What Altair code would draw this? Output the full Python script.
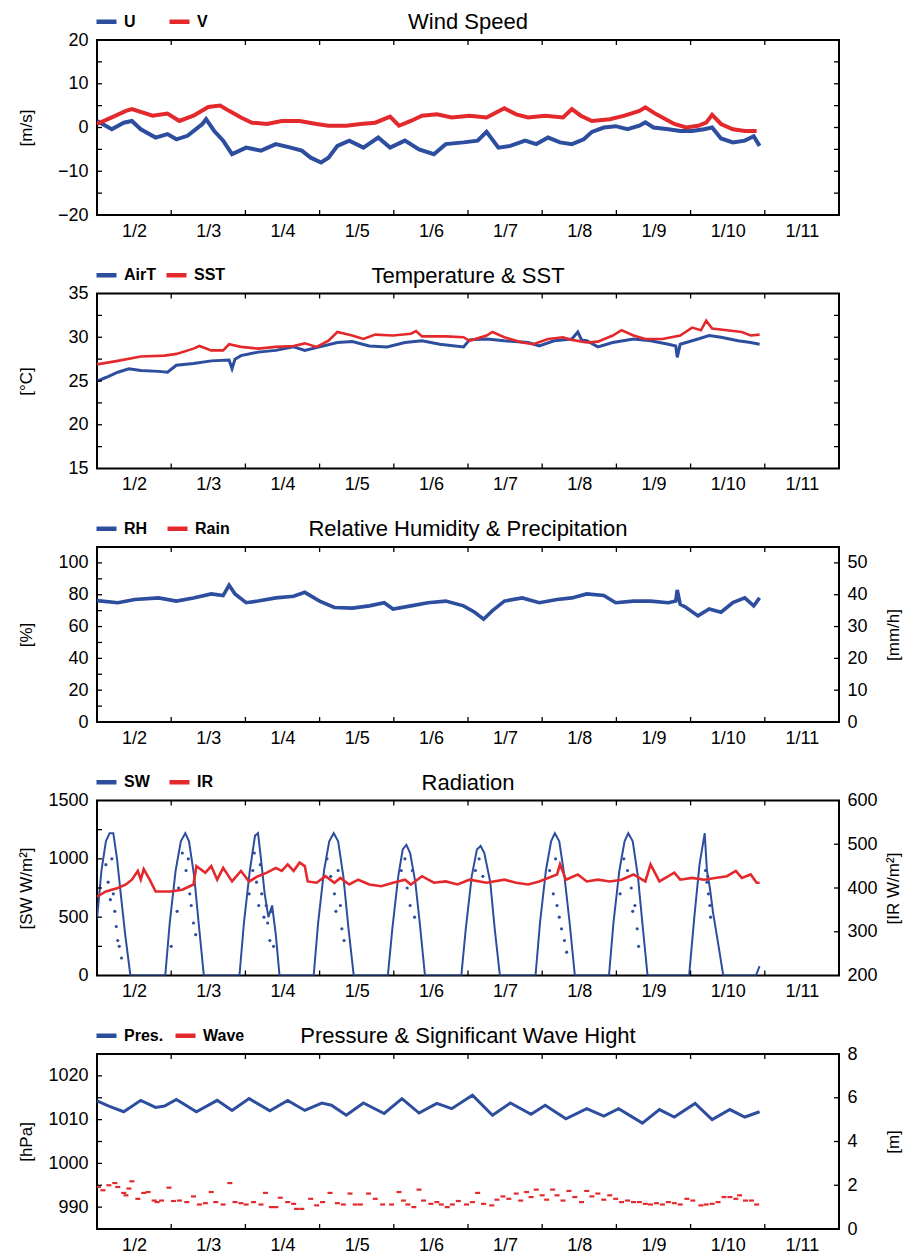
import altair as alt
import pandas as pd

BLUE = "#2D4E9E"
RED = "#E4292C"
FONT = "Liberation Sans, Arial, sans-serif"
W = 742
H = 175

# x axis: day 0 = 1/2 00:00, labels centred on each day
LABEL_POS = [0.5, 1.5, 2.5, 3.5, 4.5, 5.5, 6.5, 7.5, 8.5, 9.5]
DAY_TICKS = [1, 2, 3, 4, 5, 6, 7, 8, 9]

# ---------------- Wind ----------------
u_t = [0, 0.2, 0.36, 0.47, 0.59, 0.79, 0.95, 1.07, 1.22, 1.42, 1.47, 1.58, 1.70, 1.82, 2.01, 2.21, 2.41, 2.61, 2.76, 2.88,
       3.02, 3.12, 3.24, 3.40, 3.59, 3.79, 3.95, 4.15, 4.34, 4.54, 4.70, 4.94, 5.13, 5.25, 5.41, 5.57, 5.77, 5.92, 6.08,
       6.24, 6.40, 6.56, 6.67, 6.83, 6.99, 7.15, 7.31, 7.39, 7.50, 7.70, 7.86, 8.02, 8.18, 8.29, 8.41, 8.57, 8.73, 8.85, 8.93]
u_v = [1.5, -0.4, 1.1, 1.5, -0.4, -2.3, -1.5, -2.7, -1.9, 0.8, 1.9, -0.8, -3.0, -6.1, -4.6, -5.3, -3.8, -4.6, -5.3, -6.9,
       -8.0, -6.9, -4.2, -3.0, -4.6, -2.3, -4.6, -3.0, -5.0, -6.1, -3.8, -3.4, -3.0, -1.0, -4.6, -4.2, -3.0, -3.8, -2.3,
       -3.4, -3.8, -2.7, -1.0, 0.0, 0.3, -0.4, 0.4, 1.2, 0.0, -0.4, -0.8, -0.8, -0.4, 0.0, -2.5, -3.4, -3.0, -2.0, -4.2]
v_t = [0, 0.2, 0.39, 0.47, 0.75, 0.95, 1.11, 1.30, 1.50, 1.66, 1.78, 1.94, 2.09, 2.29, 2.49, 2.73, 2.96, 3.12, 3.36, 3.55,
       3.75, 3.95, 4.07, 4.23, 4.38, 4.58, 4.78, 5.02, 5.25, 5.49, 5.65, 5.81, 6.04, 6.28, 6.40, 6.52, 6.67, 6.91, 7.11,
       7.31, 7.39, 7.54, 7.78, 7.94, 8.10, 8.21, 8.29, 8.41, 8.57, 8.73, 8.89]
v_v = [0.8, 2.3, 3.8, 4.2, 2.7, 3.2, 1.5, 2.7, 4.7, 5.0, 3.8, 2.3, 1.1, 0.8, 1.5, 1.5, 0.8, 0.4, 0.4, 0.8,
       1.1, 2.5, 0.4, 1.5, 2.7, 3.0, 2.3, 2.7, 2.3, 4.4, 3.0, 2.3, 2.7, 2.3, 4.2, 2.7, 1.5, 1.9, 2.7,
       3.8, 4.6, 3.0, 0.8, 0.0, 0.4, 1.1, 2.9, 0.8, -0.4, -0.8, -0.8]

# ---------------- Temperature ----------------
airt_t = [0, 0.12, 0.28, 0.43, 0.59, 0.83, 0.95, 1.07, 1.30, 1.54, 1.78, 1.82, 1.86, 1.94, 2.17, 2.41, 2.65, 2.80, 3.00,
          3.24, 3.44, 3.67, 3.91, 4.15, 4.38, 4.62, 4.94, 5.02, 5.25, 5.49, 5.81, 5.96, 6.16, 6.40, 6.48, 6.53, 6.60,
          6.75, 6.95, 7.23, 7.46, 7.70, 7.80, 7.82, 7.86, 8.10, 8.25, 8.41, 8.64, 8.81, 8.93]
airt_v = [25.0, 25.4, 26.0, 26.4, 26.2, 26.1, 26.0, 26.8, 27.0, 27.3, 27.4, 26.4, 27.5, 27.9, 28.3, 28.5, 28.9, 28.5, 28.9,
          29.4, 29.5, 29.0, 28.9, 29.4, 29.6, 29.2, 28.9, 29.7, 29.8, 29.6, 29.4, 29.0, 29.6, 29.8, 30.6, 29.7, 29.6,
          28.9, 29.4, 29.8, 29.6, 29.2, 29.0, 27.7, 29.2, 29.8, 30.2, 30.0, 29.6, 29.4, 29.2]
sst_t = [0, 0.28, 0.59, 0.91, 1.07, 1.30, 1.38, 1.54, 1.70, 1.78, 1.94, 2.17, 2.41, 2.65, 2.80, 2.96, 3.12, 3.24, 3.44,
         3.59, 3.75, 3.99, 4.23, 4.30, 4.38, 4.70, 4.94, 5.02, 5.25, 5.33, 5.49, 5.73, 5.88, 6.08, 6.28, 6.40, 6.60,
         6.75, 6.95, 7.07, 7.23, 7.39, 7.62, 7.86, 8.02, 8.14, 8.21, 8.29, 8.49, 8.69, 8.81, 8.93]
sst_v = [26.9, 27.3, 27.8, 27.9, 28.1, 28.7, 29.0, 28.5, 28.5, 29.2, 28.9, 28.7, 28.9, 29.0, 29.3, 28.9, 29.6, 30.6, 30.2,
         29.8, 30.3, 30.2, 30.4, 30.7, 30.1, 30.1, 30.0, 29.6, 30.2, 30.6, 30.0, 29.4, 29.2, 29.8, 30.0, 29.7, 29.4,
         29.5, 30.2, 30.8, 30.2, 29.8, 29.8, 30.2, 31.1, 30.8, 31.9, 31.0, 30.8, 30.6, 30.2, 30.3]

# ---------------- Relative humidity ----------------
rh_t = [0, 0.28, 0.51, 0.83, 1.07, 1.30, 1.54, 1.70, 1.78, 1.86, 2.01, 2.17, 2.41, 2.65, 2.80, 3.00, 3.20, 3.44, 3.67,
        3.87, 3.99, 4.23, 4.46, 4.70, 4.94, 5.09, 5.21, 5.33, 5.49, 5.73, 5.96, 6.20, 6.40, 6.60, 6.83, 6.99, 7.23,
        7.46, 7.70, 7.80, 7.82, 7.86, 7.94, 8.10, 8.25, 8.41, 8.57, 8.73, 8.85, 8.93]
rh_v = [76.3, 75, 77, 78, 76, 78, 80.5, 79.5, 86, 80.5, 75, 76, 78, 79, 81.5, 76, 72, 71.6, 73,
        75, 71, 73, 75, 76, 73, 69, 64.6, 70, 76, 78, 75, 77, 78, 80.5, 79.5, 75, 76,
        76, 75, 76, 83, 74, 72, 66.7, 71, 69, 75, 78, 73, 78]

# ---------------- Radiation ----------------
sw_t = [0, 0.06, 0.12, 0.17, 0.22, 0.27, 0.32, 0.38, 0.45,
        0.92, 0.98, 1.06, 1.13, 1.19, 1.24, 1.31, 1.37, 1.44,
        1.92, 1.98, 2.06, 2.13, 2.17, 2.21, 2.26, 2.31, 2.36, 2.41, 2.46,
        2.92, 2.98, 3.06, 3.13, 3.19, 3.25, 3.32, 3.39, 3.46,
        3.92, 3.98, 4.06, 4.12, 4.17, 4.22, 4.29, 4.35, 4.42,
        4.91, 4.97, 5.05, 5.12, 5.17, 5.22, 5.30, 5.36, 5.43,
        5.91, 5.97, 6.05, 6.12, 6.17, 6.23, 6.30, 6.37, 6.44,
        6.90, 6.96, 7.04, 7.11, 7.16, 7.22, 7.29, 7.35, 7.42,
        7.98, 8.05, 8.12, 8.19, 8.22, 8.26, 8.30, 8.37, 8.44,
        8.88, 8.93]
sw_v = [480, 900, 1150, 1220, 1220, 1000, 700, 350, 0,
        0, 450, 900, 1150, 1220, 1150, 850, 450, 0,
        0, 450, 900, 1200, 1220, 1000, 700, 500, 600, 350, 0,
        0, 450, 900, 1150, 1220, 1150, 850, 400, 0,
        0, 400, 850, 1080, 1120, 1050, 800, 450, 0,
        0, 400, 850, 1080, 1110, 1050, 800, 400, 0,
        0, 450, 900, 1150, 1220, 1150, 850, 450, 0,
        0, 450, 900, 1150, 1220, 1150, 850, 450, 0,
        0, 500, 950, 1220, 900, 750, 550, 280, 0,
        0, 80]
swd_t = [0.12, 0.15, 0.18, 0.20, 0.22, 0.24, 0.26, 0.28, 0.30, 0.33,
         1.00, 1.08, 1.10, 1.15, 1.20, 1.23, 1.25, 1.27, 1.30, 1.33,
         2.05, 2.10, 2.12, 2.15, 2.18, 2.20, 2.22, 2.25, 2.28, 2.30, 2.33, 2.35, 2.38,
         3.10, 3.15, 3.20, 3.22, 3.25, 3.28, 3.30, 3.33,
         4.10, 4.15, 4.18, 4.22, 4.25, 4.28,
         5.10, 5.15, 5.20,
         6.10, 6.15, 6.18, 6.20, 6.23, 6.26, 6.30, 6.33,
         7.05, 7.10, 7.15, 7.20, 7.22, 7.25, 7.28, 7.30,
         8.20, 8.22, 8.23, 8.24, 8.26, 8.27]
swd_v = [950, 800, 650, 1000, 700, 550, 420, 300, 250, 150,
         250, 550, 750, 1050, 900, 1000, 700, 600, 450, 350,
         700, 900, 1050, 800, 600, 950, 700, 500, 600, 450, 300, 550, 250,
         1000, 850, 700, 550, 900, 600, 400, 300,
         900, 1000, 750, 600, 900, 500,
         900, 1000, 850,
         900, 700, 1000, 600, 500, 400, 300, 200,
         700, 1000, 900, 750, 550, 600, 400, 250,
         900, 800, 850, 700, 600, 500]
ir_t = [0, 0.12, 0.28, 0.39, 0.47, 0.55, 0.59, 0.63, 0.71, 0.79, 0.99, 1.15, 1.30, 1.34, 1.46, 1.54, 1.62, 1.70, 1.82,
        1.94, 2.05, 2.17, 2.29, 2.41, 2.49, 2.57, 2.65, 2.73, 2.80, 2.84, 2.96, 3.08, 3.20, 3.28, 3.40, 3.52, 3.67,
        3.83, 3.99, 4.15, 4.23, 4.38, 4.54, 4.70, 4.86, 5.02, 5.25, 5.49, 5.65, 5.81, 5.96, 6.20, 6.24, 6.32, 6.48,
        6.60, 6.75, 6.91, 7.07, 7.23, 7.39, 7.46, 7.58, 7.78, 7.86, 8.02, 8.18, 8.33, 8.49, 8.61, 8.69, 8.81, 8.89, 8.93]
ir_v = [380, 392, 400, 408, 419, 439, 419, 443, 419, 392, 392, 396, 408, 450, 435, 450, 419, 446, 415,
        439, 415, 427, 435, 446, 439, 454, 439, 458, 450, 415, 412, 427, 412, 423, 408, 419, 408,
        404, 412, 419, 408, 427, 412, 415, 408, 419, 412, 419, 412, 408, 415, 431, 454, 419, 431,
        415, 419, 415, 419, 431, 415, 454, 415, 435, 419, 423, 419, 423, 427, 439, 423, 431, 412, 412]

# ---------------- Pressure & wave ----------------
p_t = [0, 0.16, 0.36, 0.59, 0.79, 0.91, 1.07, 1.34, 1.62, 1.82, 2.05, 2.33, 2.57, 2.80, 3.03, 3.16, 3.36, 3.59, 3.87,
       4.11, 4.34, 4.58, 4.78, 5.06, 5.33, 5.57, 5.85, 6.04, 6.32, 6.60, 6.83, 7.03, 7.35, 7.58, 7.78, 8.06, 8.29,
       8.53, 8.73, 8.93]
p_v = [1014.3, 1013.1, 1011.8, 1014.4, 1012.8, 1013.1, 1014.6, 1011.8, 1014.4, 1012.1, 1014.8, 1012.0, 1014.4, 1012.1,
       1013.8, 1013.3, 1011.0, 1013.8, 1011.4, 1014.8, 1011.5, 1013.7, 1012.5, 1015.6, 1011.0, 1013.8, 1011.2, 1013.3,
       1010.2, 1012.5, 1010.8, 1012.5, 1009.2, 1012.3, 1010.6, 1013.7, 1010.0, 1012.3, 1010.6, 1011.8]
wave_t = [0.02, 0.08, 0.16, 0.24, 0.28, 0.36, 0.39, 0.43, 0.47, 0.55, 0.63, 0.69, 0.77, 0.81, 0.87, 0.97, 1.03, 1.11,
          1.21, 1.30, 1.38, 1.46, 1.54, 1.60, 1.70, 1.79, 1.86, 1.94, 2.01, 2.11, 2.21, 2.27, 2.35, 2.41, 2.47, 2.57,
          2.65, 2.69, 2.76, 2.88, 2.96, 3.04, 3.14, 3.24, 3.32, 3.41, 3.48, 3.55, 3.66, 3.75, 3.85, 3.97, 4.07, 4.13,
          4.19, 4.27, 4.34, 4.40, 4.50, 4.58, 4.64, 4.72, 4.79, 4.87, 4.98, 5.06, 5.13, 5.21, 5.32, 5.39, 5.47, 5.55,
          5.65, 5.71, 5.79, 5.85, 5.92, 6.00, 6.06, 6.14, 6.20, 6.28, 6.36, 6.44, 6.53, 6.60, 6.67, 6.75, 6.83, 6.91,
          6.99, 7.07, 7.15, 7.23, 7.31, 7.39, 7.46, 7.54, 7.62, 7.70, 7.78, 7.86, 7.95, 8.03, 8.14, 8.21, 8.29, 8.37,
          8.45, 8.53, 8.61, 8.66, 8.74, 8.82, 8.89]
wave_v = [1.92, 1.77, 2.0, 2.1, 1.92, 1.65, 1.54, 1.85, 2.18, 1.38, 1.65, 1.69, 1.3, 1.23, 1.3, 1.89, 1.28, 1.3,
          1.23, 1.49, 1.12, 1.18, 1.69, 1.23, 1.12, 2.1, 1.23, 1.18, 1.12, 1.23, 1.12, 1.65, 1.0, 1.0, 1.43, 1.23,
          1.15, 0.92, 0.92, 1.38, 1.08, 1.23, 1.65, 1.18, 1.12, 1.62, 1.12, 1.12, 1.62, 1.38, 1.12, 1.12, 1.69, 1.3,
          1.12, 1.0, 1.8, 1.3, 1.15, 1.23, 1.12, 1.0, 1.12, 1.28, 1.12, 1.23, 1.65, 1.15, 1.08, 1.34, 1.49, 1.38,
          1.62, 1.3, 1.69, 1.46, 1.8, 1.54, 1.34, 1.8, 1.54, 1.3, 1.74, 1.46, 1.23, 1.74, 1.49, 1.62, 1.34, 1.54,
          1.38, 1.23, 1.3, 1.23, 1.23, 1.15, 1.12, 1.18, 1.12, 1.23, 1.18, 1.12, 1.38, 1.3, 1.08, 1.12, 1.15, 1.23,
          1.46, 1.46, 1.38, 1.54, 1.3, 1.3, 1.12]


def df(t, v, name):
    return pd.DataFrame({"t": t, "v": v, "s": name})


X_AXIS = alt.Axis(values=LABEL_POS, labelExpr="'1/' + (floor(datum.value) + 2)", tickSize=0, domain=False,
                  grid=False, labelPadding=7, title=None, labelFontSize=18, labelOverlap=False,
                  labelFlush=False, labelBound=False)


def xenc():
    return alt.X("t:Q", scale=alt.Scale(domain=[0, 10], nice=False, zero=False), axis=X_AXIS)


def yenc(domain, values, title, orient):
    if orient == "left":
        ax = alt.Axis(orient="left", values=values, format="d", tickSize=0, domain=False, grid=False, labelPadding=9,
                      labelFontSize=18, title=title, titleFontSize=17, titleFontWeight="normal", titleAngle=270,
                      titleX=-62, titleY=H / 2, titleBaseline="bottom", labelOverlap=False, labelFlush=False,
                      labelBound=False)
    else:
        ax = alt.Axis(orient="right", values=values, format="d", tickSize=0, domain=False, grid=False, labelPadding=8,
                      labelFontSize=18, title=title, titleFontSize=17, titleFontWeight="normal", titleAngle=270,
                      titleX=46, titleY=H / 2, titleBaseline="top", labelOverlap=False, labelFlush=False,
                      labelBound=False)
    return alt.Y("v:Q", scale=alt.Scale(domain=domain, nice=False, zero=False), axis=ax)


def cenc(names, pad):
    return alt.Color("s:N", scale=alt.Scale(domain=names, range=[BLUE, RED]),
                     legend=alt.Legend(orient="none", legendX=-3, legendY=-31, direction="horizontal", title=None,
                                       symbolType="stroke", symbolSize=400, symbolStrokeWidth=4.5,
                                       labelFontSize=16, labelFontWeight="bold", columnPadding=pad,
                                       labelOffset=5, padding=0))


def xticks():
    d = pd.DataFrame({"t": DAY_TICKS})
    bot = alt.Chart(d).mark_rule(color="black", strokeWidth=1.3).encode(x=xenc(), y=alt.value(H), y2=alt.value(H - 5))
    top = alt.Chart(d).mark_rule(color="black", strokeWidth=1.3).encode(x=xenc(), y=alt.value(0), y2=alt.value(5))
    return [bot, top]


def yticks(ticks, domain, values, title, orient, side):
    d = pd.DataFrame({"v": ticks})
    if side == "left":
        xa, xb = alt.value(0), alt.value(5)
    else:
        xa, xb = alt.value(W), alt.value(W - 5)
    return alt.Chart(d).mark_rule(color="black", strokeWidth=1.3).encode(
        y=yenc(domain, values, title, orient), x=xa, x2=xb)


def line(data, names, pad, domain, values, title, orient, sw):
    return alt.Chart(data).mark_line(strokeWidth=sw, clip=True).encode(
        x=xenc(), y=yenc(domain, values, title, orient), color=cenc(names, pad), detail="s:N")


TITLE_OFFSET = -25

# Panel 1: wind
n1 = ["U", "V"]
d1, v1, t1 = [-20, 20], [-20, -10, 0, 10, 20], "[m/s]"
tk1 = [-15, -10, -5, 0, 5, 10, 15]
P1PAD = 24
p1 = alt.layer(
    line(df(u_t, u_v, "U"), n1, P1PAD, d1, v1, t1, "left", 4),
    line(df(v_t, v_v, "V"), n1, P1PAD, d1, v1, t1, "left", 4),
    yticks(tk1, d1, v1, t1, "left", "left"),
    yticks(tk1, d1, v1, t1, "left", "right"),
    *xticks(),
).properties(width=W, height=H, title=alt.TitleParams("Wind Speed", offset=TITLE_OFFSET))

# Panel 2: temperature
n2 = ["AirT", "SST"]
d2, v2, t2 = [15, 35], [15, 20, 25, 30, 35], "[°C]"
tk2 = [17.5, 20, 22.5, 25, 27.5, 30, 32.5]
P2PAD = 1
p2 = alt.layer(
    line(df(airt_t, airt_v, "AirT"), n2, P2PAD, d2, v2, t2, "left", 3),
    line(df(sst_t, sst_v, "SST"), n2, P2PAD, d2, v2, t2, "left", 2.6),
    yticks(tk2, d2, v2, t2, "left", "left"),
    yticks(tk2, d2, v2, t2, "left", "right"),
    *xticks(),
).properties(width=W, height=H, title=alt.TitleParams("Temperature & SST", offset=TITLE_OFFSET))

# Panel 3: RH & rain
n3 = ["RH", "Rain"]
d3, v3, t3 = [0, 110], [0, 20, 40, 60, 80, 100], "[%]"
d3r, v3r, t3r = [0, 55], [0, 10, 20, 30, 40, 50], "[mm/h]"
P3PAD = 10
left3 = alt.layer(
    line(df(rh_t, rh_v, "RH"), n3, P3PAD, d3, v3, t3, "left", 3.6),
    yticks([10, 20, 30, 40, 50, 60, 70, 80, 90, 100], d3, v3, t3, "left", "left"),
    *xticks(),
)
right3 = alt.layer(yticks([10, 20, 30, 40, 50], d3r, v3r, t3r, "right", "right"))
p3 = alt.layer(left3, right3).resolve_scale(y="independent").properties(
    width=W, height=H, title=alt.TitleParams("Relative Humidity & Precipitation", offset=TITLE_OFFSET))

# Panel 4: radiation
n4 = ["SW", "IR"]
d4, v4, t4 = [0, 1500], [0, 500, 1000, 1500], "[SW W/m²]"
d4r, v4r, t4r = [200, 600], [200, 300, 400, 500, 600], "[IR W/m²]"
P4PAD = 10
left4 = alt.layer(
    line(df(sw_t, sw_v, "SW"), n4, P4PAD, d4, v4, t4, "left", 2),
    alt.Chart(df(swd_t, swd_v, "SW")).mark_circle(size=10, opacity=1, clip=True).encode(
        x=xenc(), y=yenc(d4, v4, t4, "left"), color=cenc(n4, P4PAD)),
    yticks([250, 500, 750, 1000, 1250], d4, v4, t4, "left", "left"),
    *xticks(),
)
right4 = alt.layer(
    line(df(ir_t, ir_v, "IR"), n4, P4PAD, d4r, v4r, t4r, "right", 2.6),
    yticks([300, 400, 500], d4r, v4r, t4r, "right", "right"),
)
p4 = alt.layer(left4, right4).resolve_scale(y="independent").properties(
    width=W, height=H, title=alt.TitleParams("Radiation", offset=TITLE_OFFSET))

# Panel 5: pressure & wave
n5 = ["Pres.", "Wave"]
d5, v5, t5 = [985, 1025], [990, 1000, 1010, 1020], "[hPa]"
d5r, v5r, t5r = [0, 8], [0, 2, 4, 6, 8], "[m]"
P5PAD = 2
left5 = alt.layer(
    line(df(p_t, p_v, "Pres."), n5, P5PAD, d5, v5, t5, "left", 3),
    yticks([990, 995, 1000, 1005, 1010, 1015, 1020], d5, v5, t5, "left", "left"),
    *xticks(),
)
right5 = alt.layer(
    alt.Chart(df(wave_t, wave_v, "Wave")).mark_point(shape="M -1 0 L 1 0", size=25, strokeWidth=2.2,
                                                     filled=False, opacity=1, clip=True).encode(
        x=xenc(), y=yenc(d5r, v5r, t5r, "right"), color=cenc(n5, P5PAD)),
    yticks([2, 4, 6], d5r, v5r, t5r, "right", "right"),
)
p5 = alt.layer(left5, right5).resolve_scale(y="independent").properties(
    width=W, height=H, title=alt.TitleParams("Pressure & Significant Wave Hight", offset=TITLE_OFFSET))

chart = alt.vconcat(p1, p2, p3, p4, p5, spacing=20.5).resolve_scale(
    color="independent", x="independent", y="independent").resolve_legend(color="independent").properties(
    padding={"left": 16, "top": 8, "right": 5, "bottom": 0}
).configure_view(stroke="black", strokeWidth=2).configure_axis(
    labelFont=FONT, titleFont=FONT, labelColor="black", titleColor="black"
).configure_legend(labelFont=FONT, labelColor="black").configure_title(
    font=FONT, fontSize=22, fontWeight="normal", color="black", anchor="middle", frame="group"
)

chart.save("out.html", embed_options={"renderer": "svg", "actions": False})
